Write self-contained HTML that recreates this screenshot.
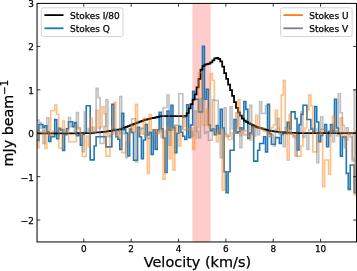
<!DOCTYPE html>
<html><head><meta charset="utf-8"><title>Stokes spectra</title>
<style>html,body{margin:0;padding:0;background:#fff}body{width:357px;height:271px;overflow:hidden}</style>
</head><body>
<svg width="357" height="271" viewBox="0 0 357 271" style="display:block">
<rect width="357" height="271" fill="#fff"/>
<clipPath id="c"><rect x="37.05" y="3.4" width="319.45" height="238.54999999999998"/></clipPath>
<rect x="192.4" y="3.4" width="18.299999999999983" height="238.54999999999998" fill="#ff0000" fill-opacity="0.2"/>
<g clip-path="url(#c)"><g fill="none" stroke-linejoin="miter" stroke-linecap="butt">
<path d="M35.04 140.50H37.01V140.50H38.98V124.50H40.95V124.50H42.92V127.44H44.89V125.71H46.86V131.69H48.83V141.40H50.80V136.70H52.77V136.70H54.74V119.60H56.71V138.70H58.68V128.50H60.65V129.85H62.62V150.50H64.59V134.51H66.56V128.72H68.53V121.80H70.50V121.80H72.47V126.80H74.44V122.60H76.41V135.78H78.38V134.64H80.35V145.10H82.32V134.36H84.29V132.66H86.26V105.80H88.23V105.80H90.20V159.90H92.17V159.90H94.14V146.00H96.11V136.80H98.08V136.80H100.05V136.80H102.02V136.80H103.99V136.80H105.96V146.90H107.93V146.90H109.90V146.90H111.87V104.40H113.84V129.18H115.81V136.80H117.78V139.30H119.75V149.40H121.72V113.30H123.69V129.58H125.66V133.14H127.63V156.00H129.60V129.07H131.57V132.55H133.54V160.30H135.51V160.30H137.48V127.37H139.45V136.75H141.42V158.70H143.39V140.00H145.36V124.50H147.33V135.00H149.30V132.34H151.27V154.50H153.24V129.71H155.21V149.40H157.18V129.70H159.15V112.30H161.12V128.91H163.09V138.01H165.06V172.50H167.03V111.10H169.00V130.25H170.97V105.20H172.94V127.67H174.91V152.80H176.88V133.27H178.85V126.24H180.82V132.23H182.79V136.27H184.76V139.48H186.73V104.90H188.70V137.60H190.67V125.00H192.64V91.40H194.61V99.30H196.58V99.30H198.55V112.00H200.52V112.00H202.49V46.40H204.46V99.30H206.43V89.20H208.40V125.00H210.37V130.77H212.34V128.97H214.31V134.76H216.28V125.47H218.25V133.58H220.22V109.40H222.19V128.00H224.16V171.80H226.13V192.80H228.10V171.80H230.07V150.30H232.04V150.30H234.01V119.50H235.98V132.90H237.95V131.44H239.92V127.78H241.89V129.68H243.86V101.50H245.83V109.40H247.80V138.40H249.77V133.06H251.74V126.71H253.71V161.10H255.68V161.10H257.65V150.20H259.62V143.50H261.59V143.50H263.56V136.80H265.53V151.90H267.50V104.30H269.47V133.82H271.44V144.30H273.41V144.30H275.38V137.60H277.35V137.60H279.32V143.50H281.29V134.39H283.26V131.72H285.23V133.48H287.20V122.30H289.17V128.63H291.14V111.90H293.11V111.90H295.08V118.60H297.05V150.00H299.02V124.60H300.99V114.40H302.96V105.20H304.93V105.20H306.90V119.50H308.87V119.50H310.84V129.06H312.81V131.27H314.78V106.50H316.75V122.00H318.72V141.80H320.69V135.34H322.66V132.80H324.63V124.50H326.60V146.80H328.57V131.28H330.54V124.50H332.51V131.14H334.48V99.30H336.45V128.07H338.42V133.86H340.39V156.10H342.36V137.00H344.33V137.00H346.30V173.40H348.27V189.40H350.24V165.00H352.21V165.00H354.18V192.80H356.15V132.12H358.12" stroke="#1f77b4" stroke-opacity="1" stroke-width="1.6"/>
<path d="M35.04 133.40H37.01V133.40H38.98V133.40H40.95V133.40H42.92V133.40H44.89V133.40H46.86V133.40H48.83V133.40H50.80V133.40H52.77V133.40H54.74V133.40H56.71V133.40H58.68V133.40H60.65V133.38H62.62V133.36H64.59V133.34H66.56V133.32H68.53V133.30H70.50V133.29H72.47V133.27H74.44V133.25H76.41V133.23H78.38V133.21H80.35V133.19H82.32V133.17H84.29V133.15H86.26V133.13H88.23V133.11H90.20V133.00H92.17V132.83H94.14V132.66H96.11V132.49H98.08V132.31H100.05V132.14H102.02V131.97H103.99V131.80H105.96V131.48H107.93V131.15H109.90V130.82H111.87V130.49H113.84V130.16H115.81V129.83H117.78V129.51H119.75V129.03H121.72V128.29H123.69V127.56H125.66V126.83H127.63V126.09H129.60V125.36H131.57V124.63H133.54V123.89H135.51V123.14H137.48V122.40H139.45V121.65H141.42V120.90H143.39V120.21H145.36V119.71H147.33V119.22H149.30V118.73H151.27V118.24H153.24V117.75H155.21V117.30H157.18V116.85H159.15V116.40H161.12V116.20H163.09V116.20H165.06V116.20H167.03V116.20H169.00V116.20H170.97V116.20H172.94V116.20H174.91V116.20H176.88V116.20H178.85V116.20H180.82V116.20H182.79V116.51H184.76V115.96H186.73V113.20H188.70V108.36H190.67V104.03H192.64V99.64H194.61V94.25H196.58V87.36H198.55V78.90H200.52V69.56H202.49V66.10H204.46V64.68H206.43V64.12H208.40V63.57H210.37V62.37H212.34V60.44H214.31V58.45H216.28V57.75H218.25V58.95H220.22V61.26H222.19V66.50H224.16V73.06H226.13V78.97H228.10V84.53H230.07V90.14H232.04V95.83H234.01V102.06H235.98V107.92H237.95V112.28H239.92V115.69H241.89V118.50H243.86V120.63H245.83V121.85H247.80V123.00H249.77V124.07H251.74V125.02H253.71V125.98H255.68V126.93H257.65V127.55H259.62V128.14H261.59V128.72H263.56V129.31H265.53V129.88H267.50V130.46H269.47V130.96H271.44V131.20H273.41V131.45H275.38V131.69H277.35V131.93H279.32V132.18H281.29V132.42H283.26V132.62H285.23V132.68H287.20V132.74H289.17V132.80H291.14V132.86H293.11V132.92H295.08V132.98H297.05V133.04H299.02V133.10H300.99V133.10H302.96V133.11H304.93V133.11H306.90V133.11H308.87V133.12H310.84V133.12H312.81V133.12H314.78V133.13H316.75V133.13H318.72V133.13H320.69V133.14H322.66V133.14H324.63V133.14H326.60V133.15H328.57V133.15H330.54V133.15H332.51V133.16H334.48V133.16H336.45V133.16H338.42V133.17H340.39V133.17H342.36V133.17H344.33V133.18H346.30V133.18H348.27V133.18H350.24V133.19H352.21V133.19H354.18V133.19H356.15V133.20H358.12" stroke="#000" stroke-opacity="1" stroke-width="1.75"/>
<path d="M35.04 130.39H37.01V147.60H38.98V131.68H40.95V132.65H42.92V130.73H44.89V148.50H46.86V130.96H48.83V135.75H50.80V110.80H52.77V110.80H54.74V105.00H56.71V114.20H58.68V148.00H60.65V148.00H62.62V121.00H64.59V132.14H66.56V131.04H68.53V141.80H70.50V141.80H72.47V141.80H74.44V141.80H76.41V127.49H78.38V129.00H80.35V133.86H82.32V156.50H84.29V156.50H86.26V135.95H88.23V146.80H90.20V118.40H92.17V131.94H94.14V131.80H96.11V110.30H98.08V128.56H100.05V127.00H102.02V106.90H103.99V113.60H105.96V156.10H107.93V156.10H109.90V133.40H111.87V127.06H113.84V102.40H115.81V136.45H117.78V131.74H119.75V133.64H121.72V152.80H123.69V152.80H125.66V141.80H127.63V141.80H129.60V128.76H131.57V125.61H133.54V132.01H135.51V104.40H137.48V130.47H139.45V133.93H141.42V128.20H143.39V118.30H145.36V136.22H147.33V173.50H149.30V114.50H151.27V130.33H153.24V129.85H155.21V130.86H157.18V133.69H159.15V127.23H161.12V131.62H163.09V179.20H165.06V130.68H167.03V126.88H169.00V158.70H170.97V128.17H172.94V170.10H174.91V125.59H176.88V132.68H178.85V146.00H180.82V128.29H182.79V116.10H184.76V126.25H186.73V128.48H188.70V129.91H190.67V128.07H192.64V149.40H194.61V138.50H196.58V127.47H198.55V72.80H200.52V72.80H202.49V125.00H204.46V125.00H206.43V109.40H208.40V128.00H210.37V73.60H212.34V80.30H214.31V132.71H216.28V141.80H218.25V130.61H220.22V129.81H222.19V190.30H224.16V133.49H226.13V134.49H228.10V139.50H230.07V139.50H232.04V132.83H234.01V132.19H235.98V126.56H237.95V99.80H239.92V135.64H241.89V129.78H243.86V131.15H245.83V130.59H247.80V135.84H249.77V140.00H251.74V134.58H253.71V126.51H255.68V115.30H257.65V127.76H259.62V128.32H261.59V128.33H263.56V130.85H265.53V131.89H267.50V136.80H269.47V136.74H271.44V127.63H273.41V125.04H275.38V110.20H277.35V128.19H279.32V133.62H281.29V95.10H283.26V80.60H285.23V128.69H287.20V160.30H289.17V114.40H291.14V133.66H293.11V137.53H295.08V134.90H297.05V156.10H299.02V156.10H300.99V146.00H302.96V132.15H304.93V128.03H306.90V110.20H308.87V95.10H310.84V106.00H312.81V151.90H314.78V151.90H316.75V134.18H318.72V134.76H320.69V129.28H322.66V186.60H324.63V160.00H326.60V160.00H328.57V174.30H330.54V128.54H332.51V116.10H334.48V130.42H336.45V136.00H338.42V134.80H340.39V117.80H342.36V125.30H344.33V140.00H346.30V140.00H348.27V133.75H350.24V132.98H352.21V158.60H354.18V195.30H356.15V130.62H358.12" stroke="#ff7f0e" stroke-opacity="0.5" stroke-width="1.6"/>
<path d="M35.04 120.10H37.01V120.10H38.98V122.60H40.95V128.50H42.92V143.40H44.89V128.23H46.86V117.90H48.83V135.49H50.80V136.93H52.77V131.66H54.74V131.84H56.71V127.86H58.68V128.02H60.65V130.43H62.62V129.65H64.59V135.29H66.56V130.45H68.53V117.60H70.50V126.61H72.47V125.23H74.44V132.83H76.41V112.50H78.38V127.82H80.35V137.51H82.32V151.80H84.29V111.70H86.26V132.28H88.23V128.47H90.20V132.43H92.17V127.27H94.14V132.28H96.11V88.40H98.08V97.60H100.05V143.50H102.02V143.50H103.99V126.42H105.96V99.80H107.93V136.79H109.90V135.63H111.87V133.96H113.84V129.61H115.81V130.67H117.78V137.90H119.75V96.50H121.72V128.67H123.69V134.05H125.66V157.80H127.63V134.72H129.60V132.33H131.57V118.70H133.54V118.70H135.51V162.00H137.48V133.79H139.45V129.30H141.42V128.23H143.39V134.12H145.36V135.85H147.33V138.53H149.30V138.06H151.27V138.18H153.24V132.57H155.21V146.90H157.18V132.40H159.15V127.27H161.12V137.45H163.09V107.70H165.06V107.70H167.03V95.10H169.00V145.20H170.97V130.18H172.94V128.56H174.91V125.29H176.88V125.28H178.85V93.80H180.82V93.80H182.79V129.79H184.76V129.59H186.73V133.93H188.70V136.57H190.67V131.47H192.64V136.37H194.61V111.00H196.58V131.46H198.55V137.88H200.52V98.60H202.49V98.60H204.46V133.55H206.43V131.65H208.40V140.20H210.37V140.20H212.34V99.70H214.31V100.50H216.28V100.50H218.25V128.20H220.22V157.80H222.19V129.27H224.16V107.70H226.13V136.71H228.10V136.16H230.07V106.90H232.04V128.97H234.01V128.78H235.98V112.80H237.95V129.04H239.92V147.70H241.89V132.24H243.86V135.00H245.83V134.40H247.80V130.79H249.77V105.20H251.74V134.53H253.71V136.00H255.68V128.85H257.65V134.61H259.62V101.80H261.59V113.50H263.56V113.50H265.53V105.80H267.50V105.80H269.47V136.10H271.44V134.82H273.41V146.00H275.38V129.27H277.35V118.60H279.32V134.50H281.29V131.78H283.26V146.80H285.23V127.79H287.20V133.89H289.17V129.33H291.14V134.01H293.11V135.72H295.08V156.00H297.05V130.96H299.02V131.01H300.99V111.90H302.96V137.47H304.93V135.25H306.90V149.40H308.87V129.77H310.84V128.70H312.81V128.27H314.78V129.14H316.75V162.80H318.72V133.29H320.69V116.90H322.66V129.36H324.63V129.51H326.60V137.05H328.57V136.07H330.54V129.46H332.51V141.80H334.48V131.28H336.45V132.27H338.42V93.70H340.39V112.70H342.36V136.80H344.33V147.70H346.30V127.82H348.27V134.57H350.24V137.17H352.21V161.00H354.18V90.00H356.15V130.50H358.12" stroke="#7f7f7f" stroke-opacity="0.5" stroke-width="1.6"/>
</g></g>
<rect x="37.05" y="3.4" width="319.45" height="238.54999999999998" fill="none" stroke="#000" stroke-width="1"/>
<path d="M83.80 241.95v-3.3M83.80 3.4v3.3M131.16 241.95v-3.3M131.16 3.4v3.3M178.52 241.95v-3.3M178.52 3.4v3.3M225.88 241.95v-3.3M225.88 3.4v3.3M273.24 241.95v-3.3M273.24 3.4v3.3M320.60 241.95v-3.3M320.60 3.4v3.3M37.05 220.05h3.3M356.5 220.05h-3.3M37.05 176.65h3.3M356.5 176.65h-3.3M37.05 133.25h3.3M356.5 133.25h-3.3M37.05 89.85h3.3M356.5 89.85h-3.3M37.05 46.45h3.3M356.5 46.45h-3.3" stroke="#000" stroke-width="0.8" fill="none"/>
<g font-family="DejaVu Sans, Liberation Sans, sans-serif" font-size="8.9" fill="#000" stroke="#000" stroke-width="0.25">
<text x="83.80" y="252.1" text-anchor="middle">0</text>
<text x="131.16" y="252.1" text-anchor="middle">2</text>
<text x="178.52" y="252.1" text-anchor="middle">4</text>
<text x="225.88" y="252.1" text-anchor="middle">6</text>
<text x="273.24" y="252.1" text-anchor="middle">8</text>
<text x="320.60" y="252.1" text-anchor="middle">10</text>
<text x="33.8" y="223.95" text-anchor="end">−2</text>
<text x="33.8" y="180.55" text-anchor="end">−1</text>
<text x="33.8" y="137.15" text-anchor="end">0</text>
<text x="33.8" y="93.75" text-anchor="end">1</text>
<text x="33.8" y="50.35" text-anchor="end">2</text>
<text x="33.8" y="6.95" text-anchor="end">3</text>
</g>
<text x="197.4" y="267.3" text-anchor="middle" font-family="DejaVu Sans, Liberation Sans, sans-serif" font-size="14.45" fill="#000" stroke="#000" stroke-width="0.25">Velocity (km/s)</text>
<text transform="translate(12.5 123.2) rotate(-90)" text-anchor="middle" font-family="DejaVu Sans, Liberation Sans, sans-serif" font-size="14.3" fill="#000" stroke="#000" stroke-width="0.25">mJy beam<tspan font-size="10.01" dy="-4.65">−1</tspan></text>
<rect x="41.3" y="7.8" width="81.7" height="28.7" rx="2" ry="2" fill="#fff" fill-opacity="0.8" stroke="#ccc" stroke-width="0.8"/>
<path d="M44.4 15.1H63.5" stroke="#000" stroke-width="1.8"/>
<text x="70.1" y="18.6" font-family="DejaVu Sans, Liberation Sans, sans-serif" font-size="8.97" fill="#000" stroke="#000" stroke-width="0.25">Stokes I/80</text>
<path d="M44.4 28.3H63.5" stroke="#1f77b4" stroke-width="1.8"/>
<text x="70.1" y="31.8" font-family="DejaVu Sans, Liberation Sans, sans-serif" font-size="8.97" fill="#000" stroke="#000" stroke-width="0.25">Stokes Q</text>
<rect x="280.5" y="7.8" width="71.6" height="28.7" rx="2" ry="2" fill="#fff" fill-opacity="0.8" stroke="#ccc" stroke-width="0.8"/>
<path d="M283.4 15.1H302.8" stroke="#ff7f0e" stroke-width="1.8"/>
<text x="309.3" y="18.6" font-family="DejaVu Sans, Liberation Sans, sans-serif" font-size="8.97" fill="#000" stroke="#000" stroke-width="0.25">Stokes U</text>
<path d="M283.4 28.3H302.8" stroke="#7f7f7f" stroke-width="1.8"/>
<text x="309.3" y="31.8" font-family="DejaVu Sans, Liberation Sans, sans-serif" font-size="8.97" fill="#000" stroke="#000" stroke-width="0.25">Stokes V</text>
</svg>
</body></html>
